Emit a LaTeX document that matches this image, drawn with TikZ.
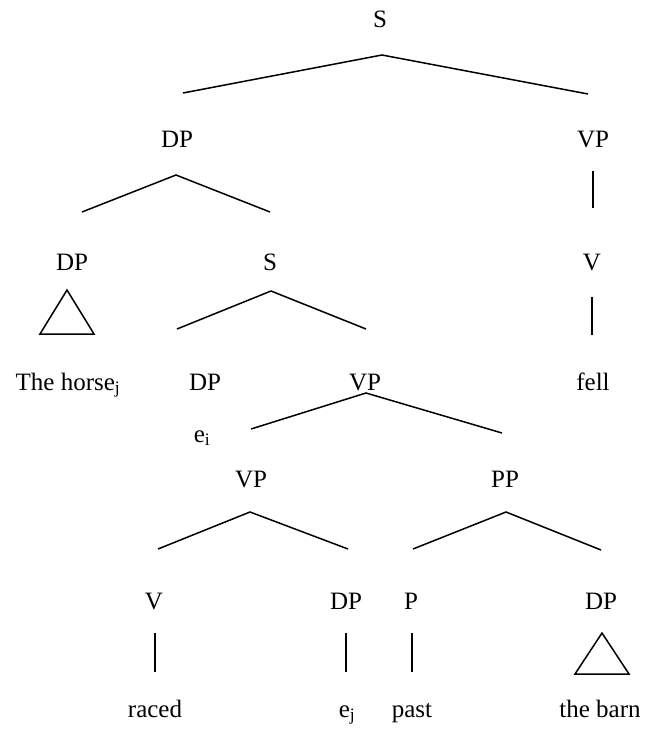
\documentclass[tikz,border=0pt]{standalone}
\usepackage{fontspec}
\setmainfont{Liberation Serif}
\usetikzlibrary{positioning}

\tikzset{
	cat/.style={font=\fontsize{25}{30}\selectfont, inner sep=0pt, anchor=base},
	branch/.style={line width=1.5pt},
}

\begin{document}
\begin{tikzpicture}[x=1pt, y=-1pt]
	\useasboundingbox (0,0) rectangle (659,737);
	
	% category labels
	\foreach \name/\x/\y/\txt in {s0/380/27/S, dpA/177/147/DP, vpA/593/147/VP,
		dpB/72/270/DP, sB/270/270/S, vB/592/270/V,
		dpC/205/390/DP, vpC/365/390/VP, fell/593/390/fell,
		vpD/251/487/VP, ppD/505/487/PP,
		vE/154/609/V, dpE/346/609/DP, pE/411/609/P, dpF/601/609/DP,
		raced/155/717/raced, past/412/717/past, barn/600/717/the barn}
	\node [cat] (\name) at (\x, \y) {\txt};
	
	\node [cat] (horse) at (68, 390) {The horse\textsubscript{j}};
	\node [cat] (ei) at (202, 442) {e\textsubscript{i}};
	\node [cat] (ej) at (347, 717) {e\textsubscript{j}};
	
	% branch points
	\foreach \name/\x/\y in {t0/382/55, l0/183/93, r0/588/94,
		tA/176/175, lA/82/212, rA/270/212,
		tB/271/291, lB/177/329, rB/366/329,
		tC/366/393, lC/251/429, rC/502/433,
		tD/250/512, lD/158/549, rD/348/549,
		tE/506/512, lE/413/549, rE/601/550}
	\coordinate (\name) at (\x, \y);
	
	\foreach \t/\l/\r in {t0/l0/r0, tA/lA/rA, tB/lB/rB, tC/lC/rC, tD/lD/rD, tE/lE/rE}
	\draw [branch] (\l) -- (\t) -- (\r);
	
	% unary lines
	\foreach \name/\x/\ya/\yb in {uA/593/171/208, uB/592/297/335,
		uC/155/633/672, uD/346/633/672, uE/412/633/672}
	{
		\coordinate (\name1) at (\x, \ya);
		\coordinate (\name2) at (\x, \yb);
		\draw [branch] (\name1) -- (\name2);
	}
	
	% triangles
	\coordinate (triA) at (67, 290);
	\coordinate (triB) at (602, 633);
	\draw [branch] (triA) -- ++(-27, 44) -- ++(54, 0) -- cycle;
	\draw [branch] (triB) -- ++(-27, 41) -- ++(54, 0) -- cycle;
\end{tikzpicture}
\end{document}
